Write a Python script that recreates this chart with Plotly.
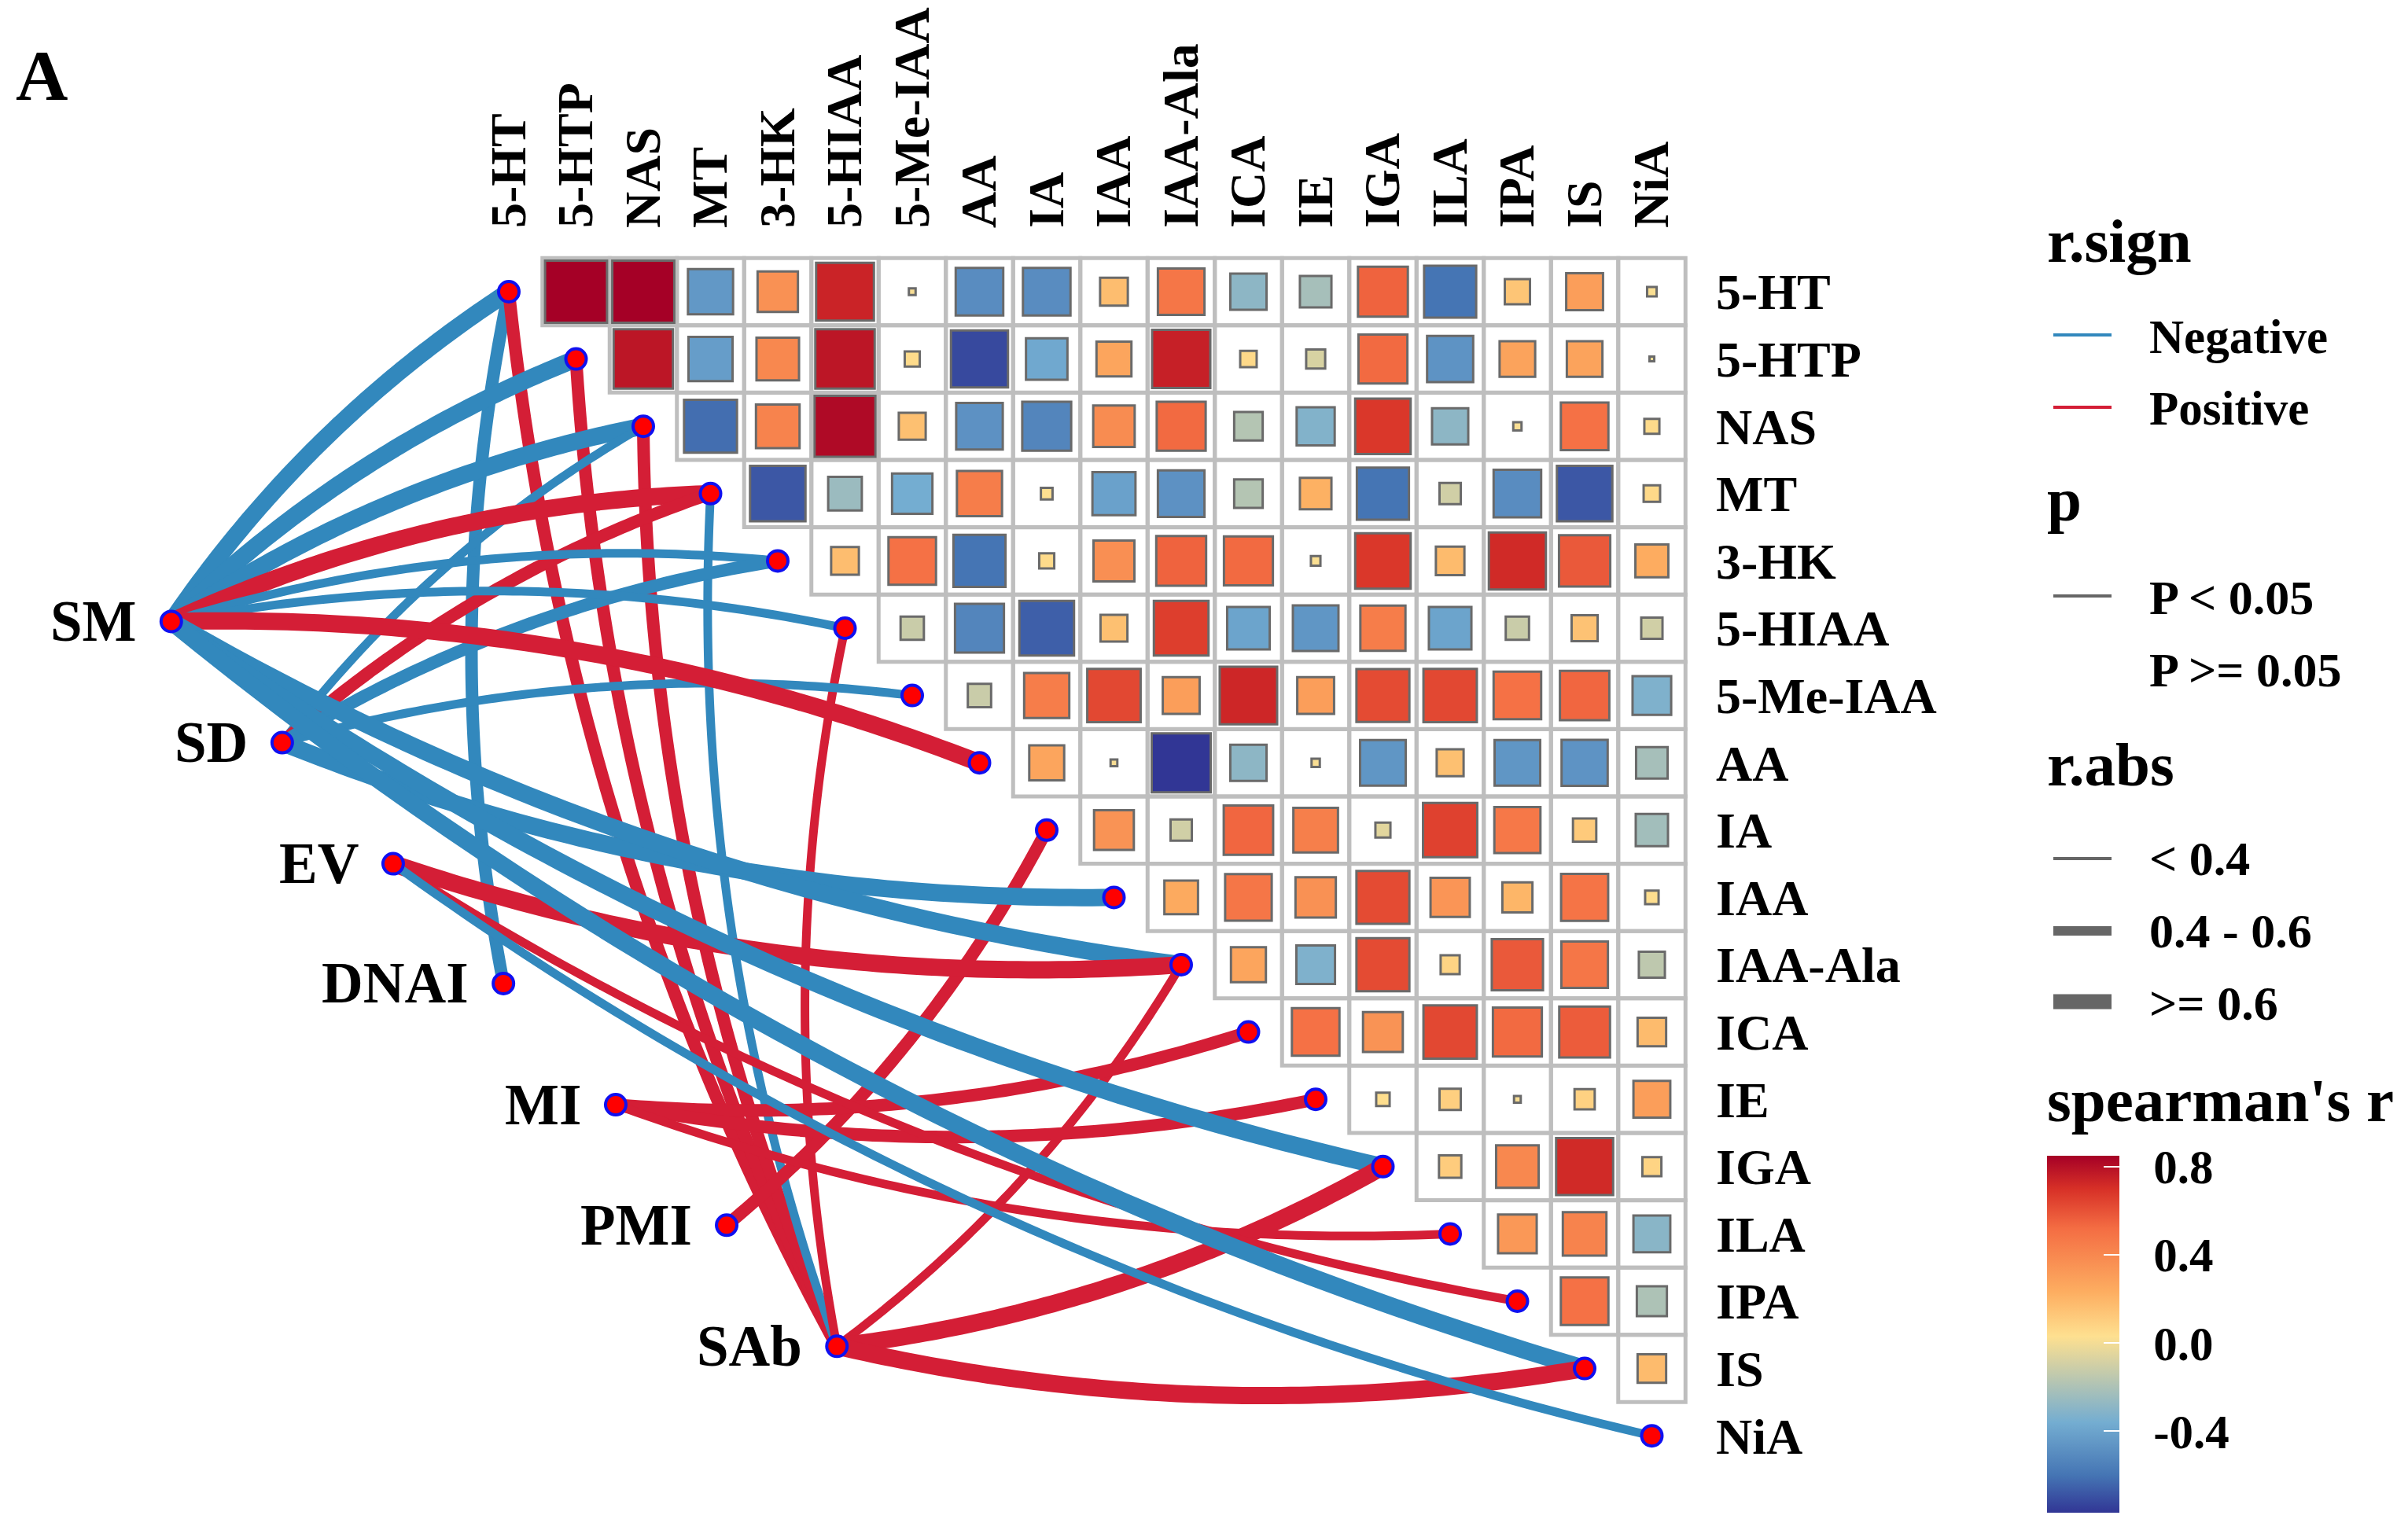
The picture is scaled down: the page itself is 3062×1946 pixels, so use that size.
import numpy as np
import plotly.graph_objects as go

# ---------- data ----------
metabolites = ["5-HT","5-HTP","NAS","MT","3-HK","5-HIAA","5-Me-IAA","AA","IA","IAA","IAA-Ala",
               "ICA","IE","IGA","ILA","IPA","IS","NiA"]
# Spearman's r, upper triangle, one list per row (columns start right of the diagonal)
r_5HT   = [.85,.85,-.45,.36,.74,.01,-.50,-.50,.17,.48,-.29,-.22,.55,-.60,.14,.30,.02]
r_5HTP  = [.78,-.43,.40,.78,.05,-.72,-.38,.27,.75,.06,-.08,.53,-.47,.28,.28,.005]
r_NAS   = [-.62,.42,.82,.16,-.48,-.53,.38,.53,-.18,-.32,.68,-.29,.015,.50,.05]
r_MT    = [-.68,-.25,-.36,.45,.03,-.41,-.48,-.18,.22,-.60,-.10,-.50,-.68,.06]
r_3HK   = [.17,.50,-.60,.05,.37,.55,.53,.02,.68,.18,.72,.58,.24]
r_5HIAA = [-.12,-.53,-.66,.16,.66,-.40,-.46,.45,-.40,-.12,.15,-.10]
r_5MeIAA= [-.12,.45,.63,.30,.73,.30,.62,.63,.50,.54,-.33]
r_AA    = [.27,.01,-.77,-.29,.015,-.46,.16,-.46,-.47,-.22]
r_IA    = [.35,-.10,.54,.44,-.05,.65,.47,.12,-.23]
r_IAA   = [.25,.48,.36,.62,.34,.20,.49,.04]
r_IAAAla= [.27,-.33,.62,.08,.58,.48,-.15]
r_ICA   = [.50,.35,.63,.53,.57,.18]
r_IE    = [.04,.10,.01,.09,.30]
r_IGA   = [.11,.40,.72,.08]
r_ILA   = [.33,.42,-.30]
r_IPA   = [.50,-.20]
r_IS    = [.18]
r_rows = [r_5HT,r_5HTP,r_NAS,r_MT,r_3HK,r_5HIAA,r_5MeIAA,r_AA,r_IA,r_IAA,r_IAAAla,r_ICA,r_IE,r_IGA,r_ILA,r_IPA,r_IS]

env_names = ["SM","SD","EV","DNAI","MI","PMI","SAb"]
env_x = [-5.02,-3.37,-1.72,-0.08,1.59,3.24,4.88]
env_y = [4.90,6.70,8.50,10.28,12.08,13.87,15.67]

# links: environmental factor, metabolite, sign, |r| class (0,1,2), curvature
link_env   = ["SM","SM","SM","SM","SM","SM","SM","SM","SM","SM",
              "SD","SD","SD","SD","SD",
              "EV","EV","EV","DNAI","MI","MI","MI","PMI",
              "SAb","SAb","SAb","SAb","SAb","SAb","SAb","SAb"]
link_to    = ["5-HT","5-HTP","NAS","MT","3-HK","5-HIAA","AA","IAA-Ala","IGA","IS",
              "NAS","MT","3-HK","5-Me-IAA","IAA",
              "IAA-Ala","IPA","NiA","5-HT","ICA","IE","ILA","IA",
              "5-HT","5-HTP","NAS","MT","5-HIAA","IAA-Ala","IGA","IS"]
link_sign  = ["Negative"]*3+["Positive","Negative","Negative","Positive","Negative","Negative","Negative",
              "Negative","Positive","Negative","Negative","Negative",
              "Positive","Positive","Negative","Negative","Positive","Positive","Positive","Positive",
              "Positive","Positive","Positive","Negative","Positive","Positive","Positive","Positive"]
link_class = [2,2,2,2,0,0,2,2,2,2,
              0,1,1,0,2,
              2,0,0,1,1,1,0,1,
              1,1,1,0,0,0,2,2]
link_curv  = [.1,.1,.1,.1,.1,.1,.1,-.1,-.1,-.1,
              .1,.1,.1,.1,-.1,
              -.1,-.1,-.1,.1,-.1,-.1,-.1,-.1,
              .1,.1,.1,.1,.1,-.1,-.1,-.1]

cbar_ticks = [-0.4,0.0,0.4,0.8]
cbar_text  = ["\u2002-0.4","\u20020.0","\u20020.4","\u20020.8"]
CMIN, CMAX = -0.77, 0.85
stops = [(-.77,"#313695"),(-.6,"#4575B4"),(-.36,"#74ADD1"),(.03,"#FEE090"),
         (.23,"#FDAE61"),(.52,"#F46D43"),(.7,"#D73027"),(.85,"#A50026")]
colorscale = [[(v-CMIN)/(CMAX-CMIN),c] for v,c in stops]

# ---------- style / layout ----------
W,H = 3062,1946
X0,Y0,DX,DY = 647.0,371.0,85.5,85.6
FONT = "Liberation Serif"
BLUE,RED = "#3288BD","#D41E36"
link_color = {"Negative":BLUE,"Positive":RED}
link_width = [11,16,22]
xrange_ = [-X0/DX,(W-X0)/DX]
yrange_ = [(H-Y0)/DY,-Y0/DY]

fig = go.Figure()

# cells
gx,gy,cv = [],[],[]
for i,row in enumerate(r_rows):
    for k,v in enumerate(row):
        gx.append(i+1+k); gy.append(i); cv.append(v)
cv = np.array(cv)
fig.add_trace(go.Scatter(x=gx,y=gy,mode="markers",hoverinfo="skip",showlegend=False,
    marker=dict(symbol="square-open",size=DX,color="#BEBEBE",opacity=1,line=dict(color="#BEBEBE",width=5))))

# links (sorted by target so the draw order follows the matrix)
pos = {m:(i,i) for i,m in enumerate(metabolites)}
env_pos = {n:(x,y) for n,x,y in zip(env_names,env_x,env_y)}
order = sorted(range(len(link_to)),key=lambda a: metabolites.index(link_to[a]))
for a in order:
    x0,y0 = env_pos[link_env[a]]; x1,y1 = pos[link_to[a]]
    px0,py0,px1,py1 = x0*DX,y0*DY,x1*DX,y1*DY
    dx,dy = px1-px0,py1-py0
    c = link_curv[a]
    cx,cy = (px0+px1)/2+c*dy,(py0+py1)/2-c*dx
    t = np.linspace(0,1,80)
    bx = (1-t)**2*px0+2*t*(1-t)*cx+t**2*px1
    by = (1-t)**2*py0+2*t*(1-t)*cy+t**2*py1
    fig.add_trace(go.Scatter(x=bx/DX,y=by/DY,mode="lines",hoverinfo="skip",showlegend=False,
        line=dict(color=link_color[link_sign[a]],width=link_width[link_class[a]],simplify=False)))

# coloured squares
fig.add_trace(go.Scatter(x=gx,y=gy,mode="markers",showlegend=False,
    marker=dict(symbol="square",size=DX*np.sqrt(np.abs(cv)),color=cv,cmin=CMIN,cmax=CMAX,opacity=1,
        colorscale=colorscale,line=dict(color="#6A6A6A",width=3),
        colorbar=dict(x=2603/W,xanchor="left",y=(H-1924)/H,yanchor="bottom",lenmode="pixels",len=454,
            thicknessmode="pixels",thickness=92,outlinewidth=0,xpad=0,ypad=0,
            tickmode="array",tickvals=cbar_ticks,ticktext=cbar_text,ticks="inside",ticklen=20,
            tickwidth=1.5,tickcolor="white",tickfont=dict(family=FONT,size=61,color="black",weight=700)))))

# nodes
fig.add_trace(go.Scatter(x=list(env_x)+list(range(len(metabolites))),y=list(env_y)+list(range(len(metabolites))),
    mode="markers",hoverinfo="skip",showlegend=False,
    marker=dict(symbol="circle",size=26,color="#FF0000",opacity=1,line=dict(color="#1010F0",width=4))))

tf = dict(family=FONT,size=64,color="black",weight=700)
fig.update_layout(width=W,height=H,margin=dict(l=0,r=0,t=0,b=0),paper_bgcolor="white",plot_bgcolor="white",
    xaxis=dict(range=xrange_,domain=[0,1],side="top",anchor="free",position=(H-290)/H,showgrid=False,zeroline=False,
        showline=False,ticks="",tickmode="array",tickvals=list(range(18)),ticktext=metabolites,tickangle=-90,tickfont=tf),
    yaxis=dict(range=yrange_,domain=[0,1],side="right",anchor="free",position=2181/W,showgrid=False,zeroline=False,
        showline=False,ticks="",tickmode="array",tickvals=list(range(18)),ticktext=metabolites,tickfont=tf))

# text
anns = []
def paper_text(x,y,text,size,xa="left"):
    anns.append(dict(x=x/W,y=1-y/H,xref="paper",yref="paper",text=text,showarrow=False,xanchor=xa,yanchor="middle",
        xshift=0,font=dict(family=FONT,size=size,color="black",weight=700)))
for n,x,y in zip(env_names,env_x,env_y):
    anns.append(dict(x=x,y=y,xref="x",yref="y",text=n,showarrow=False,xanchor="right",yanchor="middle",xshift=-42,
        font=dict(family=FONT,size=73,color="black",weight=700)))
paper_text(18,96,"A",92)
XT,XL = 2601,2731
paper_text(XT,306,"r.sign",79)
paper_text(XL,428,"Negative",61)
paper_text(XL,520,"Positive",61)
paper_text(XT,636,"p",79)
paper_text(XL,760,"P < 0.05",62)
paper_text(XL,852,"P >= 0.05",62)
paper_text(XT,972,"r.abs",79)
paper_text(XL,1092,"< 0.4",62)
paper_text(XL,1184,"0.4 - 0.6",62)
paper_text(XL,1276,">= 0.6",62)
paper_text(XT,1399,"spearman's r",79)
fig.update_layout(annotations=anns)

# legend keys
keys = [(426,BLUE,4),(518,RED,4),(758,"#666666",4),(1092,"#666666",4),(1184,"#666666",12),(1274,"#666666",19)]
fig.update_layout(shapes=[dict(type="line",xref="paper",yref="paper",x0=2611/W,x1=2685/W,y0=1-y/H,y1=1-y/H,
    line=dict(color=c,width=w)) for y,c,w in keys])

fig.write_html("out.html",post_script="document.body.style.margin='0';",config=dict(displayModeBar=False))
